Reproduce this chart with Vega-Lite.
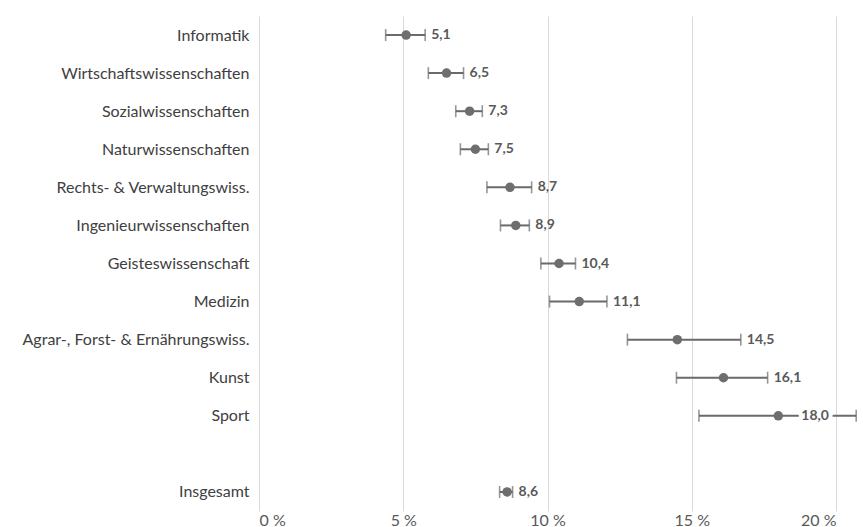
{
  "$schema": "https://vega.github.io/schema/vega-lite/v6.json",
  "autosize": "none",
  "width": 577,
  "height": 495,
  "padding": {"left": 259, "top": 16, "right": 27, "bottom": 16},
  "config": {
    "locale": {"number": {"decimal": ",", "thousands": ".", "grouping": [3], "currency": ["", " €"]}},
    "view": {"stroke": null},
    "font": "Lato"
  },
  "data": {
    "values": [
      {"fach": "Informatik", "value": 5.1, "lo": 4.39, "hi": 5.76},
      {"fach": "Wirtschaftswissenschaften", "value": 6.5, "lo": 5.87, "hi": 7.09},
      {"fach": "Sozialwissenschaften", "value": 7.3, "lo": 6.82, "hi": 7.74},
      {"fach": "Naturwissenschaften", "value": 7.5, "lo": 6.98, "hi": 7.95},
      {"fach": "Rechts- & Verwaltungswiss.", "value": 8.7, "lo": 7.9, "hi": 9.45},
      {"fach": "Ingenieurwissenschaften", "value": 8.9, "lo": 8.37, "hi": 9.37},
      {"fach": "Geisteswissenschaft", "value": 10.4, "lo": 9.77, "hi": 10.97},
      {"fach": "Medizin", "value": 11.1, "lo": 10.07, "hi": 12.06},
      {"fach": "Agrar-, Forst- & Ernährungswiss.", "value": 14.5, "lo": 12.77, "hi": 16.7},
      {"fach": "Kunst", "value": 16.1, "lo": 14.47, "hi": 17.63},
      {"fach": "Sport", "value": 18.0, "lo": 15.25, "hi": 20.7},
      {"fach": "Insgesamt", "value": 8.6, "lo": 8.34, "hi": 8.79}
    ]
  },
  "encoding": {
    "y": {
      "field": "fach",
      "type": "nominal",
      "scale": {
        "type": "point",
        "padding": 0.5,
        "domain": ["Informatik", "Wirtschaftswissenschaften", "Sozialwissenschaften", "Naturwissenschaften", "Rechts- & Verwaltungswiss.", "Ingenieurwissenschaften", "Geisteswissenschaft", "Medizin", "Agrar-, Forst- & Ernährungswiss.", "Kunst", "Sport", " ", "Insgesamt"]
      },
      "axis": {
        "title": null,
        "ticks": false,
        "domain": false,
        "grid": false,
        "labelPadding": 10,
        "labelFontSize": 16,
        "labelLimit": 400,
        "labelColor": "#404040",
        "labelFont": "Lato"
      }
    }
  },
  "layer": [
    {
      "mark": {"type": "rule", "color": "#6a6a6a", "strokeWidth": 2},
      "encoding": {
        "x": {
          "field": "lo",
          "type": "quantitative",
          "scale": {"domain": [0, 20], "nice": false},
          "axis": {
            "title": null,
            "values": [0, 5, 10, 15, 20],
            "labelExpr": "datum.value + ' %'",
            "ticks": false,
            "domain": false,
            "grid": true,
            "gridColor": "#d9d9d9",
            "gridWidth": 1,
            "labelFontSize": 16,
            "labelColor": "#595959",
            "labelPadding": 1,
            "labelFont": "Lato"
          }
        },
        "x2": {"field": "hi"}
      }
    },
    {
      "mark": {"type": "tick", "orient": "vertical", "color": "#6a6a6a", "size": 12, "thickness": 1.6},
      "encoding": {"x": {"field": "lo", "type": "quantitative"}}
    },
    {
      "mark": {"type": "tick", "orient": "vertical", "color": "#6a6a6a", "size": 12, "thickness": 1.6},
      "encoding": {"x": {"field": "hi", "type": "quantitative"}}
    },
    {
      "mark": {"type": "circle", "color": "#6e6e6e", "opacity": 1, "size": 90},
      "encoding": {"x": {"field": "value", "type": "quantitative"}}
    },
    {
      "transform": [{"filter": "datum.hi < 20"}],
      "mark": {"type": "text", "align": "left", "baseline": "middle", "dx": 6, "fontSize": 14, "fontWeight": "bold", "color": "#595959", "font": "Lato"},
      "encoding": {
        "x": {"field": "hi", "type": "quantitative"},
        "text": {"field": "value", "type": "quantitative", "format": ".1f"}
      }
    },
    {
      "transform": [{"filter": "datum.hi >= 20"}],
      "mark": {"type": "text", "align": "left", "baseline": "middle", "dx": 23, "fontSize": 14, "fontWeight": "bold", "color": "white", "stroke": "white", "strokeWidth": 8, "font": "Lato"},
      "encoding": {
        "x": {"field": "value", "type": "quantitative"},
        "text": {"field": "value", "type": "quantitative", "format": ".1f"}
      }
    },
    {
      "transform": [{"filter": "datum.hi >= 20"}],
      "mark": {"type": "text", "align": "left", "baseline": "middle", "dx": 23, "fontSize": 14, "fontWeight": "bold", "color": "#595959", "font": "Lato"},
      "encoding": {
        "x": {"field": "value", "type": "quantitative"},
        "text": {"field": "value", "type": "quantitative", "format": ".1f"}
      }
    }
  ]
}
